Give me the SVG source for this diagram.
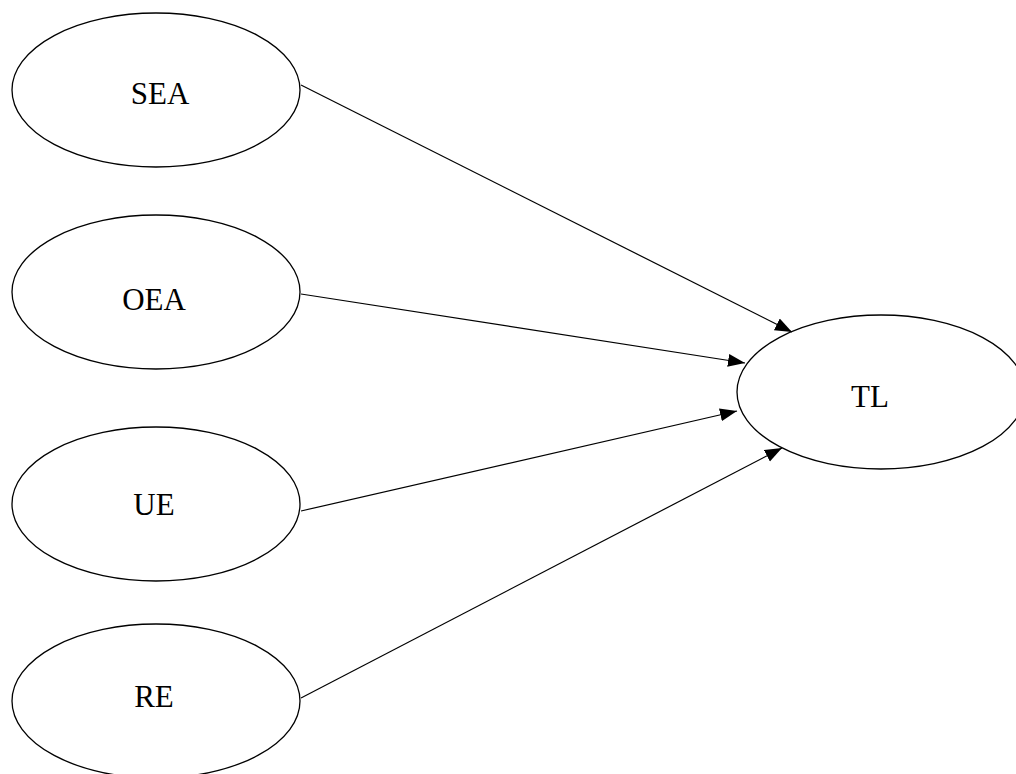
<svg xmlns="http://www.w3.org/2000/svg" width="1016" height="774" viewBox="0 0 1016 774">
<style>
.node ellipse{fill:#fff;stroke:#000;stroke-width:1.3}
.node text{font-family:"Liberation Serif","Times New Roman",serif;font-size:31px;fill:#000;text-anchor:middle}
.edges line{stroke:#000;stroke-width:1.2;marker-end:url(#arr)}
</style>
<defs>
<marker id="arr" markerUnits="userSpaceOnUse" markerWidth="18" markerHeight="14" refX="17" refY="6.5" orient="auto" viewBox="0 0 18 13">
<path d="M0,0 L17,6.5 L0,13 Z" fill="#000"/>
</marker>
</defs>
<rect width="1016" height="774" fill="#fff"/>
<g id="SEA" class="node"><ellipse cx="156" cy="90" rx="144" ry="77"/><text x="160" y="104">SEA</text></g>
<g id="OEA" class="node"><ellipse cx="156" cy="292" rx="144" ry="77"/><text x="154" y="310">OEA</text></g>
<g id="UE" class="node"><ellipse cx="156" cy="504" rx="144" ry="77"/><text x="154" y="515">UE</text></g>
<g id="RE" class="node"><ellipse cx="156" cy="701" rx="144" ry="77"/><text x="154" y="707">RE</text></g>
<g id="TL" class="node"><ellipse cx="881" cy="392" rx="144" ry="77"/><text x="870" y="407">TL</text></g>
<g id="edges" class="edges">
<line x1="301" y1="85" x2="792" y2="332"/>
<line x1="301" y1="294" x2="745" y2="363"/>
<line x1="301" y1="511" x2="737" y2="411"/>
<line x1="301" y1="698" x2="782" y2="448"/>
</g>
</svg>
